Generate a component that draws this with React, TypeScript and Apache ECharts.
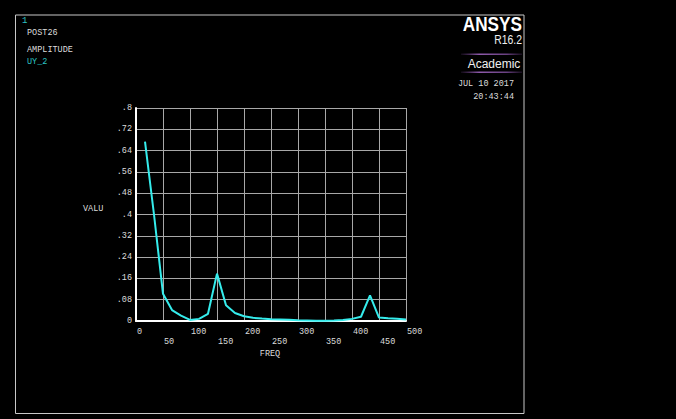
import React, { useEffect, useRef } from "react";
import * as echarts from "echarts";

// Harmonic response of UY at node 2 (POST26 amplitude plot)
const freqs = [
  16.67, 33.33, 50, 66.67, 83.33, 100, 116.67, 133.33, 150, 166.67,
  183.33, 200, 216.67, 233.33, 250, 266.67, 283.33, 300, 316.67, 333.33,
  350, 366.67, 383.33, 400, 416.67, 433.33, 450, 466.67, 483.33, 500,
];
const amplitudes = [
  0.674, 0.4, 0.102, 0.041, 0.02, 0.004, 0.008, 0.027, 0.178, 0.059,
  0.03, 0.018, 0.012, 0.009, 0.007, 0.006, 0.005, 0.003, 0.002, 0.001,
  0.001, 0.002, 0.004, 0.008, 0.016, 0.096, 0.013, 0.01, 0.008, 0.006,
];

const xTickLabels = ["0", "50", "100", "150", "200", "250", "300", "350", "400", "450", "500"];
const yTickLabels = ["0", ".08", ".16", ".24", ".32", ".4", ".48", ".56", ".64", ".72", ".8"];

const MONO = "'Liberation Mono', 'DejaVu Sans Mono', monospace";
const SANS = "'Liberation Sans', Arial, sans-serif";
const TEXT = "#dcdcdc";
const TEAL = "#2cc4c4";
const CURVE = "#35ecec";
const GRID = "#a8a8a8";

const X_STEP = 50;
const Y_STEP = 0.08;

export default function App() {
  const ref = useRef<HTMLDivElement>(null);

  useEffect(() => {
    if (!ref.current) return;
    const chart = echarts.init(ref.current, null, { renderer: "svg" });

    const purpleBar = (y: number) => ({
      type: "rect",
      shape: { x: 461, y, width: 61, height: 1.6 },
      style: {
        fill: new echarts.graphic.LinearGradient(0, 0, 1, 0, [
          { offset: 0, color: "rgba(120,70,150,0.15)" },
          { offset: 0.3, color: "rgba(150,95,180,0.95)" },
          { offset: 0.75, color: "rgba(130,80,160,0.8)" },
          { offset: 1, color: "rgba(120,70,150,0.2)" },
        ]),
      },
      silent: true,
    });

    const xLabel = (odd: boolean) => ({
      fontFamily: MONO,
      fontSize: 8.5,
      color: TEXT,
      align: "left" as const,
      margin: 6,
      showMinLabel: true,
      showMaxLabel: true,
      padding: [0, 0, 0, 1],
      formatter: (v: number) => {
        const i = Math.round(v / X_STEP);
        return (i % 2 === 1) === odd ? xTickLabels[i] ?? "" : "";
      },
    });

    chart.setOption({
      animation: false,
      backgroundColor: "#000000",
      grid: { left: 136, top: 108, width: 270, height: 213, containLabel: false },
      xAxis: [
        {
          type: "value",
          min: 0,
          max: 500,
          interval: X_STEP,
          axisLine: { show: true, onZero: false, lineStyle: { color: "#ffffff", width: 2 } },
          axisTick: { show: false },
          splitLine: { show: true, lineStyle: { color: GRID, width: 1 } },
          axisLabel: xLabel(false),
        },
        {
          type: "value",
          position: "bottom",
          offset: 10,
          min: 0,
          max: 500,
          interval: X_STEP,
          axisLine: { show: false },
          axisTick: { show: false },
          splitLine: { show: false },
          axisLabel: xLabel(true),
        },
      ],
      yAxis: {
        type: "value",
        min: 0,
        max: 0.8,
        interval: Y_STEP,
        axisLine: { show: true, onZero: false, lineStyle: { color: "#ffffff", width: 2 } },
        axisTick: { show: false },
        splitLine: { show: true, lineStyle: { color: GRID, width: 1 } },
        axisLabel: {
          fontFamily: MONO,
          fontSize: 8.5,
          color: TEXT,
          margin: 4,
          showMinLabel: true,
          showMaxLabel: true,
          formatter: (v: number) => yTickLabels[Math.round(v / Y_STEP)] ?? "",
        },
      },
      series: [
        {
          type: "line",
          xAxisIndex: 0,
          data: freqs.map((f, i) => [f, amplitudes[i]]),
          showSymbol: false,
          symbol: "none",
          lineStyle: { color: CURVE, width: 2 },
        },
      ],
      graphic: [
        {
          type: "rect",
          shape: { x: 15.5, y: 15, width: 508.5, height: 398.5 },
          style: { fill: "none", stroke: "#c8c8c8", lineWidth: 1 },
          silent: true,
        },
        {
          type: "text",
          x: 22,
          y: 21,
          style: { text: "1", fill: TEAL, font: `9px ${MONO}`, textVerticalAlign: "middle" },
        },
        {
          type: "text",
          x: 27,
          y: 32.5,
          style: { text: "POST26", fill: TEXT, font: `8.5px ${MONO}`, textVerticalAlign: "middle" },
        },
        {
          type: "text",
          x: 27,
          y: 49.7,
          style: { text: "AMPLITUDE", fill: TEXT, font: `8.5px ${MONO}`, textVerticalAlign: "middle" },
        },
        {
          type: "text",
          x: 27,
          y: 62,
          style: { text: "UY_2", fill: TEAL, font: `8.5px ${MONO}`, textVerticalAlign: "middle" },
        },
        {
          type: "text",
          x: 83,
          y: 208.5,
          style: { text: "VALU", fill: TEXT, font: `8.5px ${MONO}`, textVerticalAlign: "middle" },
        },
        {
          type: "text",
          x: 270,
          y: 354,
          style: {
            text: "FREQ",
            fill: TEXT,
            font: `8.5px ${MONO}`,
            textAlign: "center",
            textVerticalAlign: "middle",
          },
        },
        {
          type: "text",
          x: 522,
          y: 24.5,
          scaleX: 0.86,
          style: {
            text: "ANSYS",
            fill: "#ffffff",
            font: `bold 20px ${SANS}`,
            textAlign: "right",
            textVerticalAlign: "middle",
          },
        },
        {
          type: "text",
          x: 522,
          y: 39,
          scaleX: 0.8,
          style: {
            text: "R16.2",
            fill: "#f0f0f0",
            font: `13px ${SANS}`,
            textAlign: "right",
            textVerticalAlign: "middle",
          },
        },
        purpleBar(53.5),
        {
          type: "text",
          x: 494,
          y: 63.5,
          style: {
            text: "Academic",
            fill: "#f0f0f0",
            font: `12px ${SANS}`,
            textAlign: "center",
            textVerticalAlign: "middle",
          },
        },
        purpleBar(71.5),
        {
          type: "text",
          x: 514,
          y: 84,
          style: {
            text: "JUL 10 2017",
            fill: TEXT,
            font: `8.5px ${MONO}`,
            textAlign: "right",
            textVerticalAlign: "middle",
          },
        },
        {
          type: "text",
          x: 514,
          y: 97,
          style: {
            text: "20:43:44",
            fill: TEXT,
            font: `8.5px ${MONO}`,
            textAlign: "right",
            textVerticalAlign: "middle",
          },
        },
      ],
    });

    return () => chart.dispose();
  }, []);

  return (
    <div
      ref={ref}
      style={{ position: "fixed", left: 0, top: 0, width: 676, height: 419, background: "#000" }}
    />
  );
}
